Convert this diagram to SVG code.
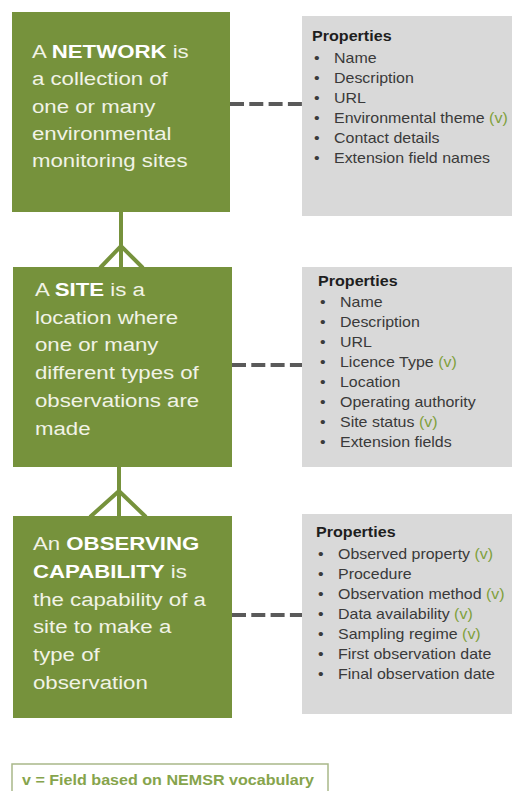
<svg xmlns="http://www.w3.org/2000/svg" width="512" height="791" viewBox="0 0 512 791">
<style>
.green{fill:#76923c}
.gray{fill:#d9d9d9}
.gt{font-family:"Liberation Sans",Arial,sans-serif;font-size:19px;fill:#f1f3e6}
.b{font-weight:bold;fill:#ffffff}
.ph{font-family:"Liberation Sans",Arial,sans-serif;font-size:14px;font-weight:bold;fill:#1e1e1e}
.it{font-family:"Liberation Sans",Arial,sans-serif;font-size:14px;fill:#3a3a3a}
.v{fill:#7fa03c}
.dash{stroke:#5a5a5a;stroke-width:4;stroke-dasharray:14 5.3;fill:none}
.crow{stroke:#76923c;stroke-width:4;fill:none}
.lg{font-family:"Liberation Sans",Arial,sans-serif;font-size:14px;font-weight:bold;fill:#86a44c}
</style>
<rect width="512" height="791" fill="#ffffff"/>
<g id="connectors">
<line class="dash" x1="230" y1="104" x2="302" y2="104"/>
<line class="dash" x1="232" y1="365" x2="304" y2="365"/>
<line class="dash" x1="232" y1="615" x2="304" y2="615"/>
<line class="crow" x1="121" y1="212" x2="121" y2="267"/>
<polyline class="crow" points="100,268 121,246 143,268"/>
<line class="crow" x1="119" y1="467" x2="119" y2="516"/>
<polyline class="crow" points="90,517 119,491 146,517"/>
</g>
<g id="network">
<rect class="green" x="12" y="12" width="218" height="200"/>
<text class="gt" transform="translate(32 58) scale(1.17 1)">A <tspan class="b">NETWORK</tspan> is</text>
<text class="gt" transform="translate(32 85) scale(1.17 1)">a collection of</text>
<text class="gt" transform="translate(32 112.5) scale(1.17 1)">one or many</text>
<text class="gt" transform="translate(32 140) scale(1.17 1)">environmental</text>
<text class="gt" transform="translate(32 167) scale(1.17 1)">monitoring sites</text>
</g>
<g id="network-properties">
<rect class="gray" x="302" y="16" width="210" height="200"/>
<text class="ph" transform="translate(312 41) scale(1.15 1)">Properties</text>
<g class="it">
<text transform="translate(314 62.5) scale(1.14 1)">•</text><text transform="translate(334 62.5) scale(1.14 1)">Name</text>
<text transform="translate(314 83) scale(1.14 1)">•</text><text transform="translate(334 83) scale(1.14 1)">Description</text>
<text transform="translate(314 103) scale(1.14 1)">•</text><text transform="translate(334 103) scale(1.14 1)">URL</text>
<text transform="translate(314 123) scale(1.14 1)">•</text><text transform="translate(334 123) scale(1.14 1)">Environmental theme <tspan class="v">(v)</tspan></text>
<text transform="translate(314 143) scale(1.14 1)">•</text><text transform="translate(334 143) scale(1.14 1)">Contact details</text>
<text transform="translate(314 163) scale(1.14 1)">•</text><text transform="translate(334 163) scale(1.14 1)">Extension field names</text>
</g>
</g>
<g id="site">
<rect class="green" x="13" y="267" width="219" height="200"/>
<text class="gt" transform="translate(35 296) scale(1.17 1)">A <tspan class="b">SITE</tspan> is a</text>
<text class="gt" transform="translate(35 323.7) scale(1.17 1)">location where</text>
<text class="gt" transform="translate(35 351.4) scale(1.17 1)">one or many</text>
<text class="gt" transform="translate(35 379) scale(1.17 1)">different types of</text>
<text class="gt" transform="translate(35 406.8) scale(1.17 1)">observations are</text>
<text class="gt" transform="translate(35 434.5) scale(1.17 1)">made</text>
</g>
<g id="site-properties">
<rect class="gray" x="302" y="267" width="210" height="200"/>
<text class="ph" transform="translate(318 286) scale(1.15 1)">Properties</text>
<g class="it">
<text transform="translate(320 306.5) scale(1.14 1)">•</text><text transform="translate(340 306.5) scale(1.14 1)">Name</text>
<text transform="translate(320 326.5) scale(1.14 1)">•</text><text transform="translate(340 326.5) scale(1.14 1)">Description</text>
<text transform="translate(320 346.5) scale(1.14 1)">•</text><text transform="translate(340 346.5) scale(1.14 1)">URL</text>
<text transform="translate(320 366.5) scale(1.14 1)">•</text><text transform="translate(340 366.5) scale(1.14 1)">Licence Type <tspan class="v">(v)</tspan></text>
<text transform="translate(320 386.5) scale(1.14 1)">•</text><text transform="translate(340 386.5) scale(1.14 1)">Location</text>
<text transform="translate(320 406.5) scale(1.14 1)">•</text><text transform="translate(340 406.5) scale(1.14 1)">Operating authority</text>
<text transform="translate(320 426.5) scale(1.14 1)">•</text><text transform="translate(340 426.5) scale(1.14 1)">Site status <tspan class="v">(v)</tspan></text>
<text transform="translate(320 446.5) scale(1.14 1)">•</text><text transform="translate(340 446.5) scale(1.14 1)">Extension fields</text>
</g>
</g>
<g id="observing-capability">
<rect class="green" x="13" y="516" width="219" height="202"/>
<text class="gt" transform="translate(33 550) scale(1.17 1)">An <tspan class="b">OBSERVING</tspan></text>
<text class="gt" transform="translate(33 578) scale(1.17 1)"><tspan class="b">CAPABILITY</tspan> is</text>
<text class="gt" transform="translate(33 605.5) scale(1.17 1)">the capability of a</text>
<text class="gt" transform="translate(33 633) scale(1.17 1)">site to make a</text>
<text class="gt" transform="translate(33 661) scale(1.17 1)">type of</text>
<text class="gt" transform="translate(33 689) scale(1.17 1)">observation</text>
</g>
<g id="observing-capability-properties">
<rect class="gray" x="302" y="514" width="210" height="200"/>
<text class="ph" transform="translate(316 537) scale(1.15 1)">Properties</text>
<g class="it">
<text transform="translate(318 558.5) scale(1.14 1)">•</text><text transform="translate(338 558.5) scale(1.14 1)">Observed property <tspan class="v">(v)</tspan></text>
<text transform="translate(318 578.5) scale(1.14 1)">•</text><text transform="translate(338 578.5) scale(1.14 1)">Procedure</text>
<text transform="translate(318 598.5) scale(1.14 1)">•</text><text transform="translate(338 598.5) scale(1.14 1)">Observation method <tspan class="v">(v)</tspan></text>
<text transform="translate(318 618.5) scale(1.14 1)">•</text><text transform="translate(338 618.5) scale(1.14 1)">Data availability <tspan class="v">(v)</tspan></text>
<text transform="translate(318 638.5) scale(1.14 1)">•</text><text transform="translate(338 638.5) scale(1.14 1)">Sampling regime <tspan class="v">(v)</tspan></text>
<text transform="translate(318 658.5) scale(1.14 1)">•</text><text transform="translate(338 658.5) scale(1.14 1)">First observation date</text>
<text transform="translate(318 678.5) scale(1.14 1)">•</text><text transform="translate(338 678.5) scale(1.14 1)">Final observation date</text>
</g>
</g>
<g id="legend">
<rect x="12" y="764" width="316" height="40" fill="#ffffff" stroke="#a9b889" stroke-width="1.5"/>
<text class="lg" transform="translate(22 785) scale(1.15 1)">v = Field based on NEMSR vocabulary</text>
</g>
</svg>
